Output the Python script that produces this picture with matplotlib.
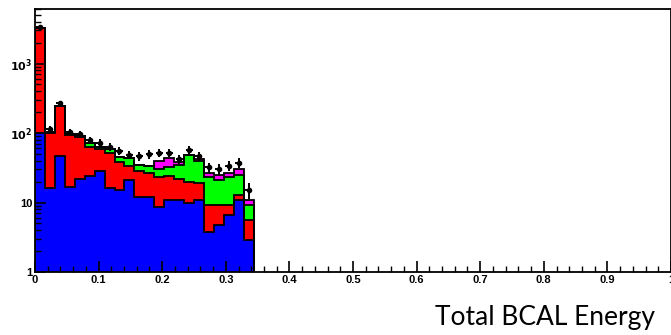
import matplotlib
matplotlib.use("Agg")
import matplotlib.pyplot as plt
import numpy as np
from matplotlib.ticker import FixedLocator, MultipleLocator, NullFormatter, LogLocator

# bin edges (22 bins of 1/64 from 0)
bin_edges = np.arange(23) / 64.0

# per-process counts, stacked bottom to top
blue_counts = [100, 16, 46, 17, 22, 24, 28, 16, 15, 21, 12, 12, 8.7, 11, 11, 10, 11, 3.8, 4.8, 6.6, 11, 2.9]
red_counts = [3200, 84, 199, 78, 66, 38, 30, 36, 23, 13, 16, 15, 14.3, 13, 11, 10, 8, 5.5, 4.5, 2.7, 2, 2.7]
green_counts = [0, 2, 3, 2, 4, 10, 6, 6, 7, 10, 7, 6, 7, 8, 13, 28, 20, 13.7, 11.7, 13.7, 12, 3.7]
magenta_counts = [0, 0, 0, 0, 0, 0, 0, 0, 0, 0, 0, 1, 9, 12, 3, 0, 3, 4, 4, 4, 5, 1.7]

data_counts = [3400, 115, 270, 105, 98, 80, 73, 64, 55, 49, 47, 50, 52, 52, 42, 57, 46, 32, 30, 34, 37, 15]

xticks = [0, 0.1, 0.2, 0.3, 0.4, 0.5, 0.6, 0.7, 0.8, 0.9, 1.0]
xticklabels = ["0", "0.1", "0.2", "0.3", "0.4", "0.5", "0.6", "0.7", "0.8", "0.9", "1"]
yticks = [1, 10, 100, 1000]
yticklabels = ["1", "10", "$\\mathbf{10^{2}}$", "$\\mathbf{10^{3}}$"]

layers = [
    (blue_counts, "#0000ff"),
    (red_counts, "#ff0000"),
    (green_counts, "#00ff00"),
    (magenta_counts, "#ff00ff"),
]

fig = plt.figure(figsize=(6.71, 3.35), dpi=100)
ax = fig.add_axes([35 / 671, 63 / 335, 636 / 671, 263 / 335])

# cumulative stack, drawn tallest first like a THStack
tops = np.cumsum([np.asarray(c, dtype=float) for c, _ in layers], axis=0)
for i in range(len(layers) - 1, -1, -1):
    ax.stairs(tops[i], bin_edges, baseline=1e-3, fill=True, color=layers[i][1], zorder=1 + (3 - i) * 0.01)
    ax.stairs(tops[i], bin_edges, baseline=1e-3, fill=False, color="black", lw=1.3, zorder=1.05 + (3 - i) * 0.01)

centers = 0.5 * (bin_edges[1:] + bin_edges[:-1])
data = np.asarray(data_counts, dtype=float)
ax.errorbar(centers, data, yerr=np.sqrt(data), xerr=0.35 / 64, fmt="o", color="black",
            ms=3, elinewidth=1.4, capsize=0, zorder=3)

ax.set_yscale("log")
ax.set_xlim(0, 1)
ax.set_ylim(1, 6100)

tick_font = dict(family=["Liberation Sans Narrow", "Liberation Sans"], weight="bold", size=8)

ax.xaxis.set_major_locator(FixedLocator(xticks))
ax.xaxis.set_minor_locator(MultipleLocator(0.02))
ax.set_xticklabels(xticklabels, fontdict=tick_font)
ax.yaxis.set_major_locator(FixedLocator(yticks))
ax.yaxis.set_minor_locator(LogLocator(base=10, subs=np.arange(2, 10)))
ax.yaxis.set_minor_formatter(NullFormatter())
ax.set_yticklabels(yticklabels, fontdict=tick_font)

ax.tick_params(which="major", direction="in", length=8, width=1.2, pad=2)
ax.tick_params(which="minor", direction="in", length=4, width=1.0)
ax.tick_params(top=False, right=False, which="both")
for s in ax.spines.values():
    s.set_linewidth(1.3)

fig.text(655 / 671, 18 / 335, "Total BCAL Energy", ha="right", va="center",
         family="Lato", fontsize=19, color="black")

fig.savefig("out.png", dpi=100)
